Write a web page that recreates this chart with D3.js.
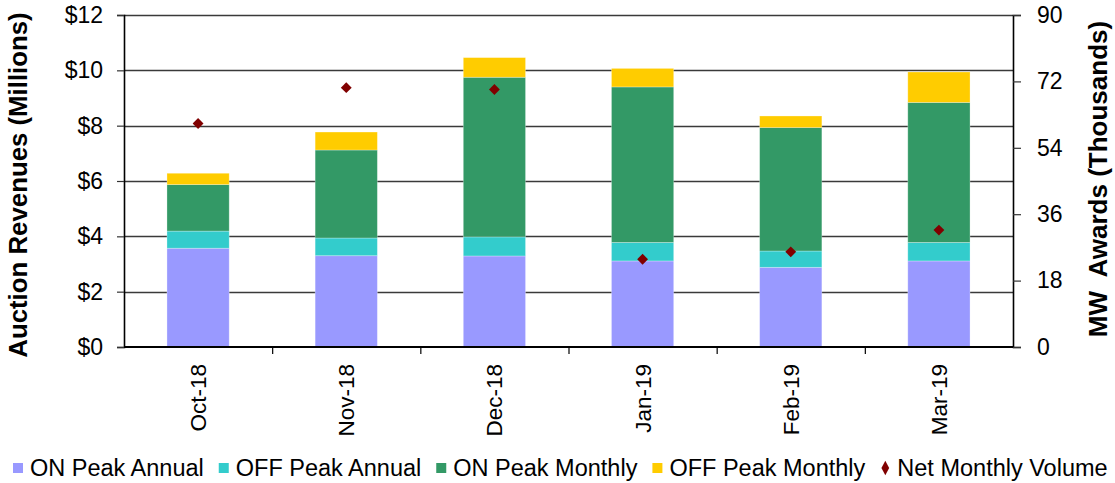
<!DOCTYPE html>
<html>
<head>
<meta charset="utf-8">
<script src="https://cdn.jsdelivr.net/npm/d3@7"></script>
<style>
  html, body { margin: 0; padding: 0; background: #fff; }
  svg { display: block; font-family: "Liberation Sans", Arial, sans-serif; }
</style>
</head>
<body>
<svg id="chart" width="1115" height="483"></svg>
<script>
// Monthly auction results, revenues in $ millions, volumes in thousand MW
const months = ["Oct-18", "Nov-18", "Dec-18", "Jan-19", "Feb-19", "Mar-19"];
const onPeakAnnual   = [3.57, 3.30, 3.29, 3.11, 2.88, 3.11];
const offPeakAnnual  = [0.62, 0.64, 0.69, 0.67, 0.59, 0.67];
const onPeakMonthly  = [1.68, 3.18, 5.77, 5.62, 4.46, 5.06];
const offPeakMonthly = [0.41, 0.65, 0.71, 0.67, 0.42, 1.10];
const netMonthlyVolume = [60.6, 70.3, 69.8, 23.8, 25.8, 31.7];

const revenueTicks = [0, 2, 4, 6, 8, 10, 12];
const volumeTicks = [0, 18, 36, 54, 72, 90];

const seriesNames = ["ON Peak Annual", "OFF Peak Annual", "ON Peak Monthly", "OFF Peak Monthly"];
const seriesColors = ["#9999FF", "#33CCCC", "#339966", "#FFCC00"];
const volumeName = "Net Monthly Volume";
const volumeColor = "#800000";

const svg = d3.select("#chart");
const plot = { left: 124, right: 1013, top: 15, bottom: 347 };

const rows = months.map((m, i) => ({
  month: m,
  "ON Peak Annual": onPeakAnnual[i],
  "OFF Peak Annual": offPeakAnnual[i],
  "ON Peak Monthly": onPeakMonthly[i],
  "OFF Peak Monthly": offPeakMonthly[i]
}));

const x = d3.scaleBand().domain(months)
  .range([plot.left, plot.right]).paddingInner(0.58).paddingOuter(0.29);
const xCell = d3.scaleBand().domain(months).range([plot.left, plot.right]).padding(0);
const yL = d3.scaleLinear().domain([0, 12]).range([plot.bottom, plot.top]);
const yR = d3.scaleLinear().domain([0, 90]).range([plot.bottom, plot.top]);

// horizontal gridlines
svg.append("g").selectAll("line").data(revenueTicks.slice(1)).join("line")
  .attr("x1", plot.left).attr("x2", plot.right)
  .attr("y1", d => Math.round(yL(d)) + 0.5).attr("y2", d => Math.round(yL(d)) + 0.5)
  .attr("stroke", "#3a3a3a").attr("stroke-width", 1.4);

// stacked bars
const stack = d3.stack().keys(seriesNames)(rows);
svg.append("g").selectAll("g").data(stack).join("g")
  .attr("fill", (d, i) => seriesColors[i])
  .selectAll("rect").data(d => d).join("rect")
  .attr("x", d => x(d.data.month))
  .attr("width", x.bandwidth())
  .attr("y", d => yL(d[1]))
  .attr("height", d => yL(d[0]) - yL(d[1]))
  .attr("stroke", "rgba(255,255,255,0.35)").attr("stroke-width", 0.8);

// volume markers on the secondary axis
const diamond = d3.symbol().type(d3.symbolDiamond2).size(75);
svg.append("g").selectAll("path").data(netMonthlyVolume).join("path")
  .attr("d", diamond)
  .attr("transform", (d, i) => `translate(${x(months[i]) + x.bandwidth() / 2},${yR(d)})`)
  .attr("fill", volumeColor);

// left axis
const leftAxis = svg.append("g").attr("transform", `translate(${plot.left},0)`)
  .call(d3.axisLeft(yL).tickValues(revenueTicks).tickFormat(d => "$" + d).tickSize(7).tickPadding(14));
leftAxis.select(".domain").attr("stroke", "#000").attr("stroke-width", 1.6);
leftAxis.selectAll(".tick line").attr("stroke", "#333").attr("stroke-width", 1.2);
leftAxis.selectAll("text").attr("font-size", 23).attr("fill", "#000")
  .attr("font-family", "Liberation Sans, Arial, sans-serif");

// right axis
const rightAxis = svg.append("g").attr("transform", `translate(${plot.right},0)`)
  .call(d3.axisRight(yR).tickValues(volumeTicks).tickSize(8).tickPadding(16));
rightAxis.select(".domain").attr("stroke", "#000").attr("stroke-width", 1.6);
rightAxis.selectAll(".tick line").attr("stroke", "#333").attr("stroke-width", 1.2);
rightAxis.selectAll("text").attr("font-size", 23).attr("fill", "#000")
  .attr("font-family", "Liberation Sans, Arial, sans-serif");

// bottom axis: category dividers as tick marks, labels rotated
svg.append("line")
  .attr("x1", plot.left).attr("x2", plot.right)
  .attr("y1", plot.bottom).attr("y2", plot.bottom)
  .attr("stroke", "#000").attr("stroke-width", 2);
svg.append("g").selectAll("line").data(months.slice(1)).join("line")
  .attr("x1", d => xCell(d) + 0.5).attr("x2", d => xCell(d) + 0.5)
  .attr("y1", plot.bottom).attr("y2", plot.bottom + 7)
  .attr("stroke", "#000").attr("stroke-width", 1.2);
svg.append("g").selectAll("text").data(months).join("text")
  .attr("transform", d => `translate(${x(d) + x.bandwidth() / 2 + 8},${plot.bottom + 17}) rotate(-90)`)
  .attr("text-anchor", "end")
  .attr("font-size", 22.5)
  .text(d => d);

// axis titles
svg.append("text")
  .attr("transform", `translate(27,${(plot.top + plot.bottom) / 2 + 4}) rotate(-90)`)
  .attr("text-anchor", "middle").attr("font-size", 25.8).attr("font-weight", "bold")
  .text("Auction Revenues (Millions)");
svg.append("text")
  .attr("transform", `translate(1107,179) rotate(-90)`)
  .attr("text-anchor", "middle").attr("font-size", 26).attr("font-weight", "bold")
  .attr("xml:space", "preserve")
  .text("MW  Awards (Thousands)");

// legend
const legendItems = seriesNames.map((n, i) => ({ name: n, color: seriesColors[i], kind: "rect" }))
  .concat([{ name: volumeName, color: volumeColor, kind: "diamond" }]);
const legend = svg.append("g").attr("transform", "translate(13,468)");
let lx = 0;
legendItems.forEach(item => {
  const g = legend.append("g").attr("transform", `translate(${lx},0)`);
  if (item.kind === "rect") {
    g.append("rect").attr("x", 0).attr("y", -5).attr("width", 10).attr("height", 10).attr("fill", item.color);
  } else {
    g.append("path").attr("d", d3.symbol().type(d3.symbolDiamond2).size(60))
      .attr("transform", "translate(5,0) scale(0.8,1.5)").attr("fill", item.color);
  }
  const t = g.append("text").attr("x", 17).attr("y", 0).attr("dy", "0.36em")
    .attr("font-size", 23.5).text(item.name);
  lx += 17 + t.node().getComputedTextLength() + 15;
});
</script>
</body>
</html>
